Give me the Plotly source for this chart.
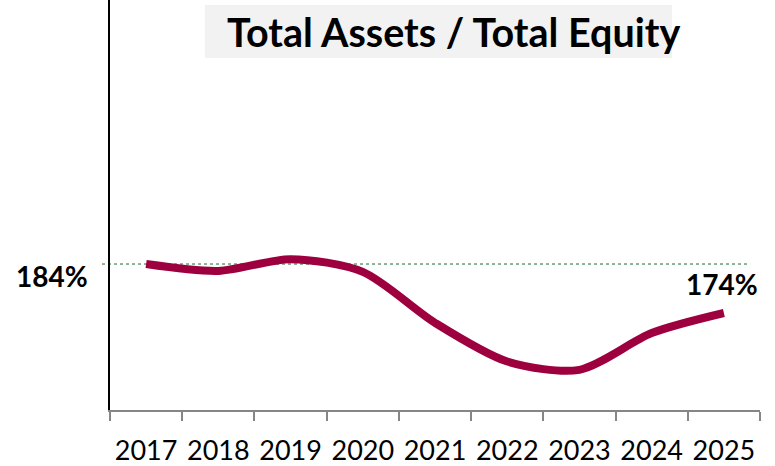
import plotly.graph_objects as go

years = ["2017", "2018", "2019", "2020", "2021", "2022", "2023", "2024", "2025"]
ratio = [184.0, 182.6, 185.0, 182.4, 172.0, 164.1, 162.4, 169.9, 174.0]
ref_value = 184.0
ref_label = "184%"
last_label = "174%"
title_text = "Total Assets / Total Equity"

FONT = "Lato"

fig = go.Figure()
fig.add_trace(go.Scatter(
    x=years, y=ratio, mode="lines",
    line=dict(color="#9E003F", width=8, shape="spline", smoothing=0.8),
    hoverinfo="skip",
))

# reference dotted line
fig.add_shape(type="line", xref="paper", yref="y",
              x0=-0.0123, x1=0.9815, y0=ref_value, y1=ref_value,
              line=dict(color="#1F6A33", width=1, dash="dot"), layer="below")

# title box
fig.add_shape(type="rect", xref="paper", yref="paper",
              x0=0.146, x1=0.8646, y0=0.8585, y1=0.988,
              fillcolor="#F2F2F2", line=dict(width=0), layer="below")
fig.add_annotation(text="<b>" + title_text + "</b>", xref="paper", yref="paper",
                   x=0.5285, y=0.923, showarrow=False,
                   font=dict(family=FONT, size=39.5, color="#000000"),
                   xanchor="center", yanchor="middle")

fig.add_annotation(text="<b>" + ref_label + "</b>", xref="paper", yref="y",
                   x=-0.089, y=ref_value, yshift=-12, showarrow=False,
                   font=dict(family=FONT, size=28, color="#000000"),
                   xanchor="center", yanchor="middle")
fig.add_annotation(text="<b>" + last_label + "</b>", x=len(years) - 1, y=ratio[-1],
                   yshift=29, xshift=-2, showarrow=False,
                   font=dict(family=FONT, size=28, color="#000000"),
                   xanchor="center", yanchor="middle")

fig.update_xaxes(type="category", range=[-0.5, 8.5], showline=True,
                 linecolor="#868686", linewidth=1.5, ticks="outside",
                 tickson="boundaries", ticklen=9, tickcolor="#868686",
                 tickwidth=1.5, showgrid=False, zeroline=False,
                 tickfont=dict(family=FONT, size=27, color="#000000"),
                 ticklabelstandoff=16, fixedrange=True)
fig.update_yaxes(range=[154.2, 237.9], showline=True, linecolor="#000000",
                 linewidth=1.5, showticklabels=False, ticks="",
                 showgrid=False, zeroline=False, fixedrange=True)

fig.update_layout(width=775, height=466, plot_bgcolor="white",
                  paper_bgcolor="white", showlegend=False,
                  margin=dict(l=110, r=15, t=0, b=56, autoexpand=False),
                  font=dict(family=FONT))

fig.write_html("out.html", config={"displayModeBar": False},
               post_script="document.body.style.margin='0px';document.body.style.overflow='hidden';")
